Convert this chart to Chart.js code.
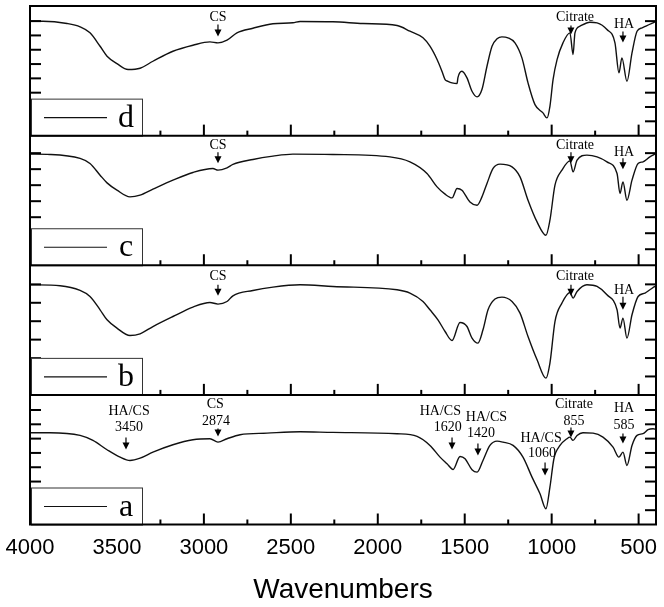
<!DOCTYPE html>
<html>
<head>
<meta charset="utf-8">
<script src="https://cdn.jsdelivr.net/npm/chart.js@4.4.1/dist/chart.umd.min.js"></script>
<style>
html,body{margin:0;padding:0;background:#fff;}
#wrap{width:664px;height:607px;position:relative;}
canvas{display:block;}
</style>
</head>
<body>
<div id="wrap"><canvas id="chart" width="664" height="607"></canvas></div>
<script>
// ---------- DATA ----------
const xTickLabels = [4000, 3500, 3000, 2500, 2000, 1500, 1000, 500];
const xAxisTitle = 'Wavenumbers';
const panelLabels = ['d', 'c', 'b', 'a']; // top to bottom

// Spectrum d (top panel): wavenumber (cm-1) and transmittance (a.u.)
const wnD = [4000,3925,3787,3712,3655,3597,3557,3500,3436,3367,3293,3178,3063,2965,2919,2867,2810,2718,2603,2488,2447,2258,2085,1889,1815,1740,1700,1659,1631,1613,1596,1573,1544,1539,1516,1487,1458,1429,1401,1372,1343,1314,1286,1251,1211,1171,1136,1096,1050,1027,1010,992,969,935,895,877,866,837,780,739,682,636,613,596,567,538,509,480,452,417,400];
const tD  = [114.3,114.3,112,108.7,102.7,89.3,79.3,72,66,67.3,74.3,84.3,90.3,93.7,92.7,95.3,102.7,107.3,111.7,112.7,114,113.7,112,110,104.3,97.7,89.3,76,64.3,56,54.3,52.7,52,58,64.3,57.7,44.3,38.7,46,69.3,89.3,96.7,98.7,97.7,92.7,77.7,52.7,31,22.7,17.7,29.3,56,76,92.7,102.7,81,102.7,109.3,113.3,112.7,106,92.7,62.7,77.7,54.3,82.7,104.3,107.7,110,112.7,114];

// Spectrum c
const wnC = [4000,3885,3712,3655,3597,3557,3500,3425,3367,3293,3178,3063,2948,2919,2867,2833,2718,2603,2488,2258,1930,1815,1717,1659,1613,1573,1544,1516,1470,1429,1401,1372,1337,1297,1228,1182,1136,1084,1033,1010,981,941,895,877,854,797,739,682,624,607,590,567,538,503,475,435,417,400];
const tC  = [111,110.7,106.7,101.7,90,82.3,75,68.3,70,76,85,92.7,96.7,95,97.3,100.7,105.7,109,111,110.7,108.3,103.3,91.7,78.3,71,67.3,76.7,75,63.3,60,68.3,81.7,96.7,101,98.3,88.3,65,43.3,30,45,80,95,104.3,93.3,105,110,108.3,103.3,91.7,71.7,83.3,65,85,101.7,103.3,108.3,110,112];

// Spectrum b
const wnB = [4000,3827,3712,3655,3597,3557,3500,3425,3367,3293,3178,3063,2965,2919,2867,2833,2718,2603,2447,2258,1889,1815,1740,1700,1654,1613,1573,1527,1487,1458,1424,1395,1366,1326,1286,1228,1182,1136,1084,1033,1010,981,941,895,877,854,797,739,682,624,607,590,567,538,503,463,435,405,400];
const tB  = [110,109,104.3,98.3,85,75,66.7,59.3,61,68.3,78.3,87.7,92.3,90.7,93.3,99,104.3,107.7,110,108.3,105,101.7,93.3,85,75,63.3,54.3,72.3,68.3,56.7,51.7,65,85,95.7,97.7,93.3,81.7,58.3,35,16.7,31.7,73.3,91.7,102.3,96.7,103.3,110,108.3,100,85,66.7,76.7,56.7,80,98.3,101.7,105,108.3,108.5];

// Spectrum a (bottom panel)
const wnA = [4000,3885,3712,3638,3557,3482,3425,3367,3293,3178,3063,2965,2919,2867,2792,2637,2447,2258,1889,1774,1700,1642,1602,1567,1527,1498,1458,1429,1395,1355,1314,1280,1222,1165,1113,1067,1033,1010,987,952,912,895,877,854,820,762,705,647,613,590,567,538,509,475,446,417,400];
const tA  = [91.7,91.7,89,84,74.7,67.3,64,66.3,72.3,79.7,84.7,85.7,82.3,85.7,89.7,91.3,92.7,92,90.7,88,79,67.3,60.7,55,68,65.7,54.7,52.3,64,79,83.3,82.3,79,67.3,47.3,30.7,15.7,37.3,65.7,79,85.7,87.3,84,89,91.7,91.3,87.3,77.3,67.3,72.3,59,79,89,90.7,94.7,95.7,95];

// Annotation texts and their anchor (wavenumber / transmittance units of their panel)
const annotations = [
  {panel:'d', lines:['CS'],            lineX:[2919],       lineY:[118],     arrowX:2919, arrowFrom:111, arrowTo:99},
  {panel:'d', lines:['Citrate'],       lineX:[866],        lineY:[118],     arrowX:889,  arrowFrom:110, arrowTo:101},
  {panel:'d', lines:['HA'],            lineX:[584],        lineY:[111],     arrowX:590,  arrowFrom:104, arrowTo:93},
  {panel:'c', lines:['CS'],            lineX:[2919],       lineY:[120],     arrowX:2919, arrowFrom:113, arrowTo:102},
  {panel:'c', lines:['Citrate'],       lineX:[866],        lineY:[120],     arrowX:889,  arrowFrom:113, arrowTo:102},
  {panel:'c', lines:['HA'],            lineX:[584],        lineY:[113],     arrowX:590,  arrowFrom:107, arrowTo:96},
  {panel:'b', lines:['CS'],            lineX:[2919],       lineY:[118],     arrowX:2919, arrowFrom:110, arrowTo:99},
  {panel:'b', lines:['Citrate'],       lineX:[866],        lineY:[118],     arrowX:889,  arrowFrom:110, arrowTo:99},
  {panel:'b', lines:['HA'],            lineX:[584],        lineY:[104],     arrowX:590,  arrowFrom:98,  arrowTo:85},
  {panel:'a', lines:['HA/CS','3450'],  lineX:[3430,3430],  lineY:[113,97],  arrowX:3448, arrowFrom:87,  arrowTo:75},
  {panel:'a', lines:['CS','2874'],     lineX:[2935,2930],  lineY:[120,103], arrowX:2919, arrowFrom:96,  arrowTo:88},
  {panel:'a', lines:['HA/CS','1620'],  lineX:[1640,1598],  lineY:[113,97],  arrowX:1573, arrowFrom:87,  arrowTo:75},
  {panel:'a', lines:['HA/CS','1420'],  lineX:[1375,1406],  lineY:[107,91],  arrowX:1424, arrowFrom:81,  arrowTo:69},
  {panel:'a', lines:['HA/CS','1060'],  lineX:[1061,1056],  lineY:[86,71],   arrowX:1038, arrowFrom:62,  arrowTo:49},
  {panel:'a', lines:['Citrate','855'], lineX:[872,872],    lineY:[120,103], arrowX:889,  arrowFrom:97,  arrowTo:87},
  {panel:'a', lines:['HA','585'],      lineX:[584,584],    lineY:[116,99],  arrowX:590,  arrowFrom:91,  arrowTo:81}
];

// ---------- BUILD ----------
const toPts = (xs, ys) => xs.map((x, i) => ({x: x, y: ys[i]}));
const spectra = {a: [wnA, tA], b: [wnB, tB], c: [wnC, tC], d: [wnD, tD]};
const tickSteps = {a: 14.3, b: 18.4, c: 16, d: 14.3};
const PANEL_MAX = 129.5;

const SERIF = '"Liberation Serif", "Times New Roman", serif';
const SANS = '"Liberation Sans", Arial, sans-serif';

const datasets = ['a','b','c','d'].map(k => ({
  label: k,
  data: toPts(spectra[k][0], spectra[k][1]),
  yAxisID: 'y' + k,
  borderColor: '#111',
  borderWidth: 1.4,
  pointRadius: 0,
  fill: false,
  cubicInterpolationMode: 'monotone'
}));

function yAxis(k) {
  return {
    type: 'linear',
    position: 'left',
    stack: 'panels',
    stackWeight: 1,
    min: 0,
    max: PANEL_MAX,
    display: true,
    grid: {display: false, drawTicks: false},
    border: {display: false},
    ticks: {display: false, stepSize: tickSteps[k]},
    afterBuildTicks: (s) => { s.ticks = s.ticks.filter(t => t.value > 0.5 && t.value < PANEL_MAX - 8); },
    afterFit: (s) => { s.width = 0; }
  };
}

function line(ctx, x1, y1, x2, y2) {
  ctx.beginPath(); ctx.moveTo(x1, y1); ctx.lineTo(x2, y2); ctx.stroke();
}

const panelPlugin = {
  id: 'panelDecor',
  afterDraw(chart) {
    const ctx = chart.ctx;
    const xs = chart.scales.x;
    const area = chart.chartArea;
    ctx.save();
    ctx.lineCap = 'butt';
    panelLabels.forEach(k => {
      const ys = chart.scales['y' + k];
      const bot = ys.bottom;
      ctx.strokeStyle = '#000';
      ctx.lineWidth = 2;
      // inward x ticks at the bottom of each panel
      for (let wn = 500; wn < 4000; wn += 250) {
        const px = xs.getPixelForValue(wn);
        const len = (wn % 500 === 0) ? 11 : 5;
        line(ctx, px, bot, px, bot - len);
      }
      // inward y ticks on both sides
      ys.ticks.forEach(t => {
        const py = ys.getPixelForValue(t.value);
        line(ctx, area.left, py, area.left + 11, py);
        line(ctx, area.right, py, area.right - 11, py);
      });
      // legend box
      const bx = area.left + 1, bw = 111, bh = 37, by = bot - bh;
      ctx.fillStyle = '#fff';
      ctx.fillRect(bx, by, bw, bh);
      ctx.lineWidth = 1;
      ctx.strokeStyle = '#333';
      ctx.strokeRect(bx + 0.5, by + 0.5, bw, bh);
      ctx.strokeStyle = '#111';
      ctx.lineWidth = 1.2;
      line(ctx, bx + 13, bot - 18, bx + 76, bot - 18);
      const ds = chart.data.datasets.find(d => d.yAxisID === 'y' + k);
      ctx.fillStyle = '#000';
      ctx.font = '32px ' + SERIF;
      ctx.textAlign = 'center';
      ctx.textBaseline = 'alphabetic';
      ctx.fillText(ds.label, bx + 95, bot - 9);
    });
    // annotations
    ctx.fillStyle = '#000';
    ctx.strokeStyle = '#000';
    ctx.font = '14px ' + SERIF;
    ctx.textAlign = 'center';
    ctx.textBaseline = 'middle';
    annotations.forEach(a => {
      const ys = chart.scales['y' + a.panel];
      a.lines.forEach((txt, i) => ctx.fillText(txt, xs.getPixelForValue(a.lineX[i]), ys.getPixelForValue(a.lineY[i])));
      const ax = xs.getPixelForValue(a.arrowX);
      const y1 = ys.getPixelForValue(a.arrowFrom);
      const y2 = ys.getPixelForValue(a.arrowTo);
      ctx.lineWidth = 1.2;
      line(ctx, ax, y1, ax, y2 - 5);
      ctx.beginPath();
      ctx.moveTo(ax - 3.5, y2 - 7);
      ctx.lineTo(ax + 3.5, y2 - 7);
      ctx.lineTo(ax, y2);
      ctx.closePath();
      ctx.fill();
    });
    // frame and panel separators
    ctx.strokeStyle = '#000';
    ctx.lineWidth = 2;
    ctx.strokeRect(area.left, area.top, area.right - area.left, area.bottom - area.top);
    panelLabels.forEach(k => {
      const ys = chart.scales['y' + k];
      if (ys.bottom < area.bottom - 1) line(ctx, area.left, ys.bottom, area.right, ys.bottom);
    });
    ctx.restore();
  }
};

new Chart(document.getElementById('chart'), {
  type: 'line',
  data: {datasets: datasets},
  options: {
    responsive: false,
    animation: false,
    devicePixelRatio: 1,
    layout: {padding: {left: 30, right: 8, top: 6, bottom: 0}},
    plugins: {legend: {display: false}, tooltip: {enabled: false}},
    scales: {
      x: {
        type: 'linear',
        min: 400,
        max: 4000,
        reverse: true,
        grid: {display: false, drawTicks: false},
        border: {display: false},
        ticks: {
          stepSize: 500,
          autoSkip: false,
          maxRotation: 0,
          padding: 10,
          color: '#000',
          font: {family: SANS, size: 22},
          callback: (v) => String(v)
        },
        afterBuildTicks: (s) => { s.ticks = xTickLabels.map(v => ({value: v})); },
        afterFit: (s) => { s.height = 82.5; s.paddingLeft = 0; s.paddingRight = 0; },
        title: {display: true, text: xAxisTitle, color: '#000', font: {family: SANS, size: 28}, padding: {top: 12, bottom: 0}}
      },
      ya: yAxis('a'),
      yb: yAxis('b'),
      yc: yAxis('c'),
      yd: yAxis('d')
    }
  },
  plugins: [panelPlugin]
});
</script>
</body>
</html>
